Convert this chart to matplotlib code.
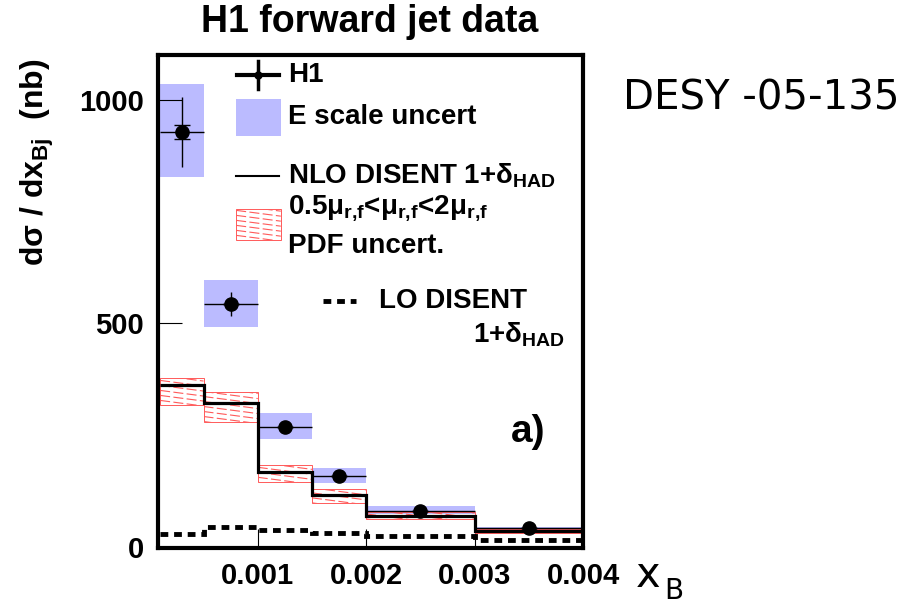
import matplotlib
matplotlib.use('Agg')
import matplotlib.pyplot as plt
from matplotlib.patches import Rectangle
import numpy as np

plt.rcParams['font.family'] = ['Liberation Sans', 'DejaVu Sans']
plt.rcParams['font.weight'] = 'bold'
plt.rcParams['mathtext.fontset'] = 'custom'
plt.rcParams['mathtext.rm'] = 'Liberation Sans:bold'
plt.rcParams['mathtext.bf'] = 'Liberation Sans:bold'
plt.rcParams['mathtext.it'] = 'Liberation Sans:bold'

# bin edges in x_Bj
edges = [0.0001, 0.0005, 0.001, 0.0015, 0.002, 0.003, 0.004]
# H1 data
h1 = [927, 542, 267, 158, 80, 42]
h1_err = [78, 27, 10, 8, 5, 4]
h1_stat = [16, 0, 0, 0, 0, 0]
# energy scale uncertainty band
escale_lo = [827, 491, 240, 142, 73, 38]
escale_hi = [1036, 596, 298, 176, 91, 44]
# NLO DISENT with hadronisation corrections, and its scale/PDF band
nlo = [362, 322, 167, 116, 69, 36]
band_lo = [316, 280, 144, 98, 62, 31]
band_hi = [378, 347, 182, 129, 78, 40]
# LO DISENT
lo = [29, 44, 38, 31, 24, 16]

xmin, xmax = 0.00008, 0.004
ymin, ymax = -3, 1100
W, H = 910, 604

blue = '#bbbbff'
red = '#ff5a5a'

fig = plt.figure(figsize=(W / 100, H / 100), dpi=100)
ax = fig.add_axes([158 / W, 1 - 548 / H, 425 / W, 493 / H])
ax.set_xlim(xmin, xmax)
ax.set_ylim(ymin, ymax)

px_x = 425 / (xmax - xmin)
px_y = 493 / (ymax - ymin)


def hatch_box(x0, x1, y0, y1, sx, sy, transform):
    # red slanted hatching clipped to a box
    rect = Rectangle((x0, y0), x1 - x0, y1 - y0, fill=False,
                     edgecolor=red, lw=0.7, transform=transform, zorder=2)
    ax.add_patch(rect)
    slope = -0.13 * sx / sy
    step = 5 / sy
    c = y0
    while c < y1 - slope * (x1 - x0):
        ln, = ax.plot([x0, x1], [c, c + slope * (x1 - x0)], color=red,
                      lw=0.8, ls=(0, (9, 3)), transform=transform, zorder=2)
        ln.set_clip_path(rect)
        c += step


edges_a = np.array(edges)
centers = (edges_a[:-1] + edges_a[1:]) / 2
widths = edges_a[1:] - edges_a[:-1]

ax.bar(centers, np.array(escale_hi) - np.array(escale_lo), width=widths,
       bottom=escale_lo, color=blue, lw=0, zorder=1)

for x0, x1, b0, b1 in zip(edges[:-1], edges[1:], band_lo, band_hi):
    hatch_box(x0, x1, b0, b1, px_x, px_y, ax.transData)

ax.stairs(nlo, edges, baseline=None, color='black', lw=2.3, zorder=3)
ax.stairs(lo, edges, baseline=None, color='black', lw=3.5,
          ls=(0, (1.6, 1.2)), zorder=3)

ax.errorbar(centers, h1, xerr=widths / 2, yerr=h1_err, fmt='o', color='black',
            ms=9.5, elinewidth=1.0, capsize=0, zorder=4)
ax.errorbar(centers, h1, yerr=h1_stat, fmt='none', ecolor='black',
            elinewidth=1.0, capsize=6, capthick=1.0, zorder=4)

# axes styling
for s in ax.spines.values():
    s.set_linewidth(3)
ax.set_xticks([0.001, 0.002, 0.003, 0.004])
ax.set_xticklabels(['0.001', '0.002', '0.003', '0.004'])
ax.set_yticks([0, 500, 1000])
ax.tick_params(axis='x', direction='in', length=14, width=0.8, pad=10,
               labelsize=21)
ax.tick_params(axis='y', direction='in', length=17, width=0.8, pad=10,
               labelsize=21)

# legend drawn by hand
t = ax.transAxes
ax.plot([0.186, 0.285], [0.959, 0.959], color='black', lw=3, transform=t)
ax.plot([0.236, 0.236], [0.931, 0.988], color='black', lw=2.5, transform=t)
ax.plot([0.236], [0.959], 'o', color='black', ms=5, transform=t)
ax.text(0.306, 0.959, 'H1', transform=t, fontsize=20, va='center')

ax.add_patch(Rectangle((0.184, 0.836), 0.105, 0.075, color=blue, lw=0,
                       transform=t))
ax.text(0.306, 0.874, 'E scale uncert', transform=t, fontsize=20, va='center')

ax.plot([0.184, 0.285], [0.755, 0.755], color='black', lw=1.5, transform=t)
ax.text(0.306, 0.755, r'NLO DISENT 1+δ$_{\mathbf{HAD}}$', transform=t,
        fontsize=20, va='center')

hatch_box(0.184, 0.289, 0.624, 0.688, 425, 493, t)
ax.text(0.306, 0.690,
        r'0.5μ$_{\mathbf{r{,}f}}$<μ$_{\mathbf{r{,}f}}$<2μ$_{\mathbf{r{,}f}}$',
        transform=t, fontsize=20, va='center')
ax.text(0.306, 0.612, 'PDF uncert.', transform=t, fontsize=20, va='center')

ax.plot([0.389, 0.465], [0.501, 0.501], color='black', lw=3.5,
        ls=(0, (1.6, 1.2)), transform=t)
ax.text(0.52, 0.501, 'LO DISENT', transform=t, fontsize=20, va='center')
ax.text(0.958, 0.432, r'1+δ$_{\mathbf{HAD}}$', transform=t, fontsize=20,
        va='center', ha='right')

ax.text(0.87, 0.235, 'a)', transform=t, fontsize=28, va='center', ha='center')

# figure texts
fig.text(370 / W, 1 - 22 / H, 'H1 forward jet data', fontsize=27,
         ha='center', va='center')
fig.text(37 / W, 1 - 162 / H, r'dσ / dx$_{\mathbf{Bj}}$  (nb)', fontsize=23,
         rotation=90, ha='center', va='center')
fig.text(636 / W, 1 - 587 / H, 'x', fontsize=30, family='DejaVu Sans',
         weight='normal', ha='left', va='baseline')
fig.text(664 / W, 1 - 599 / H, 'B', fontsize=20, family='DejaVu Sans',
         weight='normal', ha='left', va='baseline')
fig.text(623 / W, 1 - 99 / H, 'DESY -05-135', fontsize=29,
         family='DejaVu Sans', weight='normal', ha='left', va='center')

fig.savefig('out.png', dpi=100)
